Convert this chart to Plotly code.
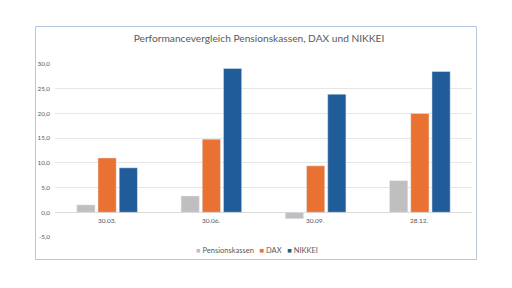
import plotly.graph_objects as go

categories = ["30.03.", "30.06.", "30.09.", "28.12."]
pensionskassen = [1.5, 3.3, -1.3, 6.4]
dax = [11.0, 14.8, 9.4, 20.0]
nikkei = [9.0, 29.1, 23.9, 28.5]
series_names = ["Pensionskassen", "DAX", "NIKKEI"]
series_colors = ["#BFBFBF", "#E97132", "#1F5C99"]
tick_vals = [-5, 0, 5, 10, 15, 20, 25, 30]
tick_text = ["-5,0", "0,0", "5,0", "10,0", "15,0", "20,0", "25,0", "30,0"]

fig = go.Figure()
for name, vals, col in zip(series_names, [pensionskassen, dax, nikkei], series_colors):
    fig.add_trace(go.Bar(x=categories, y=vals, name=name, marker_color=col,
                         showlegend=False))

# category labels next to the zero line (Excel style)
for c in categories:
    fig.add_annotation(x=c, y=0, xref="x", yref="y", text=c, showarrow=False,
                       yanchor="top", yshift=-3,
                       font=dict(size=6.5, color="#595959"))

# legend drawn as a text line with coloured squares
legend_parts = []
for name, col in zip(series_names, series_colors):
    legend_parts.append(f'<span style="color:{col}">■</span>\u00a0{name}')
fig.add_annotation(x=(257 - 55) / 417, y=-(250 - 237) / 173, xref="paper", yref="paper",
                   text="\u00a0\u00a0\u00a0".join(legend_parts), showarrow=False,
                   xanchor="center", yanchor="middle",
                   font=dict(size=7.5, color="#595959"))

fig.update_layout(
    width=512, height=288,
    margin=dict(l=55, r=40, t=64, b=51),
    paper_bgcolor="white", plot_bgcolor="white",
    barmode="group", bargap=0.39, bargroupgap=0.14,
    font=dict(family="Lato, Roboto, sans-serif", color="#595959"),
    title=dict(text="Performancevergleich Pensionskassen, DAX und NIKKEI",
               x=259 / 512, xref="container", xanchor="center",
               y=1 - 38 / 288, yanchor="middle",
               font=dict(size=10.2, color="#595959")),
    showlegend=False,
    yaxis=dict(range=[-5, 30], tickvals=tick_vals, ticktext=tick_text,
               showgrid=True, gridcolor="#E6E6E6", gridwidth=1,
               zeroline=True, zerolinecolor="#D9D9D9", zerolinewidth=1,
               showline=False, tickfont=dict(size=6.3, color="#595959"),
               ticklabelstandoff=4),
    xaxis=dict(showline=False, showgrid=False, ticks="", showticklabels=False),
    shapes=[dict(type="rect", xref="paper", yref="paper",
                 x0=(35.5 - 55) / 417, x1=(476.5 - 55) / 417,
                 y0=-(259.5 - 237) / 173, y1=1 + (64 - 26.5) / 173,
                 line=dict(color="#B4C7DC", width=1), layer="below")],
)

fig.write_html("out.html")
